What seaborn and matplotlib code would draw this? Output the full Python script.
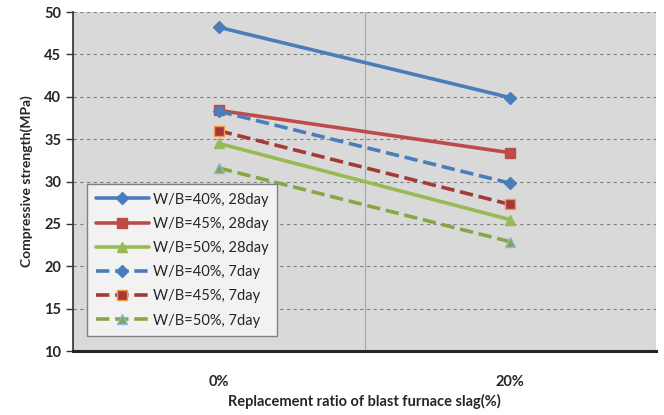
import matplotlib
matplotlib.use("Agg")
import matplotlib.pyplot as plt
import pandas as pd
import seaborn as sns

categories = ["0%", "20%"]
wb40_28 = [48.2, 39.9]
wb45_28 = [38.4, 33.4]
wb50_28 = [34.5, 25.5]
wb40_7 = [38.3, 29.8]
wb45_7 = [36.0, 27.3]
wb50_7 = [31.6, 22.9]

series = [
    ("W/B=40%, 28day", wb40_28, "#4A7EBB", "D", "-", "#4A7EBB"),
    ("W/B=45%, 28day", wb45_28, "#BE4B48", "s", "-", "#BE4B48"),
    ("W/B=50%, 28day", wb50_28, "#98B954", "^", "-", "#98B954"),
    ("W/B=40%, 7day", wb40_7, "#4A7EBB", "D", "--", "#4A7EBB"),
    ("W/B=45%, 7day", wb45_7, "#A33A38", "s", "--", "#F79646"),
    ("W/B=50%, 7day", wb50_7, "#86A648", "^", "--", "#8EB4E3"),
]

sns.set_style("white")
plt.rcParams["font.family"] = ["Lato", "DejaVu Sans"]

fig = plt.figure(figsize=(6.64, 4.15), dpi=100)
ax = fig.add_axes([0.110, 0.154, 0.878, 0.817])
ax.set_facecolor("#D9D9D9")

for name, vals, color, marker, ls, edge in series:
    df = pd.DataFrame({"x": categories, "y": vals})
    msize = {"D": 6, "s": 7.5, "^": 7}[marker]
    sns.lineplot(data=df, x="x", y="y", ax=ax, color=color, linestyle=ls,
                 linewidth=2.6, marker=marker, markersize=msize,
                 markerfacecolor=color, markeredgecolor=edge,
                 markeredgewidth=1.0, label=name, sort=False)

ax.set_xlim(-0.5, 1.5)
ax.set_ylim(10, 50)
ax.set_yticks(range(10, 51, 5))
ax.yaxis.grid(True, color="#808080", linestyle=(0, (3, 3)), linewidth=0.8)
ax.set_xticks([0, 1])
ax.set_xticks([-0.5, 0.5, 1.5], minor=True)
ax.xaxis.grid(True, which="minor", color="#A6A6A6", linewidth=0.8)
ax.tick_params(axis="x", which="major", length=0, pad=17, labelsize=10.5)
ax.tick_params(axis="x", which="minor", length=5, width=1.5, color="#333333",
               direction="out")
ax.tick_params(axis="y", length=5, width=1, color="#333333", labelsize=10.5,
               direction="out", left=True)
for lbl in ax.get_xticklabels() + ax.get_yticklabels():
    lbl.set_fontweight("bold")
    lbl.set_color("#262626")

for s in ["top", "right"]:
    ax.spines[s].set_visible(False)
ax.spines["left"].set_color("#333333")
ax.spines["left"].set_linewidth(1.2)
ax.spines["bottom"].set_color("#262626")
ax.spines["bottom"].set_linewidth(2.2)

ax.set_xlabel("Replacement ratio of blast furnace slag(%)", fontsize=10.5,
              fontweight="bold", color="#262626", labelpad=4)
ax.set_ylabel("Compressive strength(MPa)", fontsize=10, fontweight="bold",
              color="#262626", labelpad=8)

leg = ax.legend(loc="lower left", bbox_to_anchor=(0.012, 0.022), fontsize=10.5,
                frameon=True, fancybox=False, handlelength=3.6,
                labelspacing=0.7, borderpad=0.6, handletextpad=0.3)
leg.get_frame().set_facecolor("#F2F2F2")
leg.get_frame().set_edgecolor("#808080")
leg.get_frame().set_alpha(1)
for t in leg.get_texts():
    t.set_color("#262626")

fig.savefig("out.png", dpi=100, facecolor="white")
